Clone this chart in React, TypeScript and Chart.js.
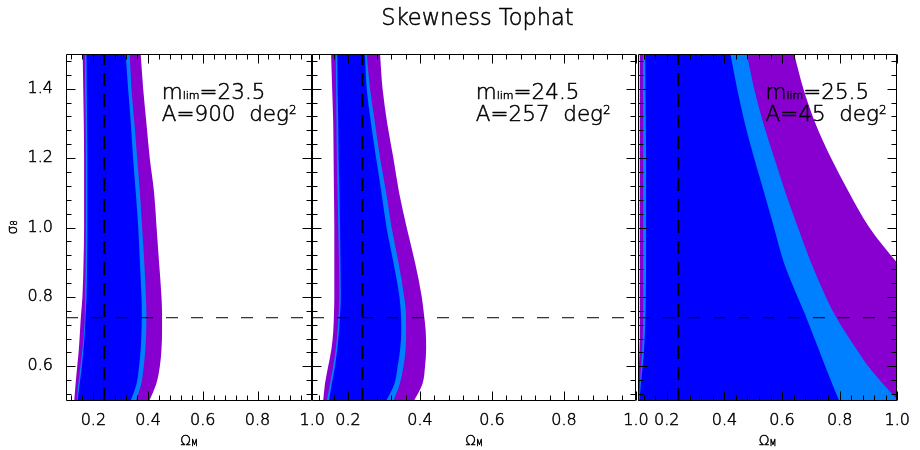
import React, { useEffect, useRef } from 'react';
import { Chart, registerables } from 'chart.js';

Chart.register(...registerables);

const FONT = '"DejaVu Sans", "Liberation Sans", sans-serif';
const WEIGHT = '200';
const STROKE = 0.5;

// sigma_8 levels at which the contour edges are read
const SIGMA8 = [0.5, 0.55, 0.6, 0.65, 0.7, 0.75, 0.8, 0.9, 1.0, 1.1, 1.2, 1.3, 1.4, 1.5];

// Panel 1: m_lim = 23.5, A = 900 deg^2  (Omega_M edges of each confidence region)
const P1_OUTER_L = [0.130, 0.135, 0.141, 0.147, 0.151, 0.155, 0.160, 0.164, 0.166, 0.166, 0.166, 0.165, 0.163, 0.161];
const P1_MID_L = [0.139, 0.145, 0.153, 0.160, 0.166, 0.169, 0.170, 0.172, 0.173, 0.173, 0.173, 0.172, 0.170, 0.169];
const P1_INNER_L = [0.142, 0.150, 0.158, 0.164, 0.169, 0.172, 0.175, 0.177, 0.178, 0.178, 0.178, 0.177, 0.176, 0.175];
const P1_INNER_R = [0.336, 0.358, 0.367, 0.373, 0.376, 0.377, 0.376, 0.370, 0.364, 0.355, 0.345, 0.337, 0.327, 0.318];
const P1_MID_R = [0.355, 0.375, 0.384, 0.390, 0.393, 0.394, 0.392, 0.386, 0.378, 0.370, 0.360, 0.350, 0.339, 0.333];
const P1_OUTER_R = [0.404, 0.430, 0.443, 0.449, 0.451, 0.451, 0.449, 0.440, 0.431, 0.422, 0.406, 0.394, 0.382, 0.373];

// Panel 2: m_lim = 24.5, A = 257 deg^2
const P2_OUTER_L = [0.131, 0.136, 0.145, 0.154, 0.159, 0.161, 0.162, 0.162, 0.162, 0.161, 0.160, 0.159, 0.156, 0.153];
const P2_MID_L = [0.141, 0.150, 0.159, 0.166, 0.171, 0.174, 0.176, 0.175, 0.173, 0.171, 0.169, 0.168, 0.167, 0.166];
const P2_INNER_L = [0.147, 0.155, 0.164, 0.170, 0.175, 0.178, 0.180, 0.179, 0.178, 0.176, 0.174, 0.173, 0.171, 0.170];
const P2_INNER_R = [0.306, 0.329, 0.338, 0.345, 0.348, 0.347, 0.343, 0.326, 0.307, 0.293, 0.278, 0.264, 0.252, 0.247];
const P2_MID_R = [0.326, 0.344, 0.354, 0.360, 0.361, 0.361, 0.356, 0.340, 0.321, 0.306, 0.289, 0.275, 0.261, 0.252];
const P2_OUTER_R = [0.383, 0.407, 0.414, 0.417, 0.416, 0.411, 0.405, 0.386, 0.363, 0.342, 0.326, 0.309, 0.296, 0.289];

// Panel 3: m_lim = 25.5, A = 45 deg^2
const P3_OUTER_L = [0.100, 0.101, 0.103, 0.105, 0.106, 0.106, 0.106, 0.106, 0.106, 0.106, 0.106, 0.106, 0.106, 0.106];
const P3_MID_L = [0.103, 0.107, 0.111, 0.115, 0.117, 0.118, 0.118, 0.118, 0.118, 0.118, 0.118, 0.118, 0.117, 0.117];
const P3_INNER_L = [0.105, 0.110, 0.116, 0.121, 0.124, 0.126, 0.127, 0.128, 0.128, 0.128, 0.128, 0.127, 0.126, 0.125];
const P3_INNER_R = [0.799, 0.774, 0.750, 0.727, 0.703, 0.680, 0.654, 0.606, 0.572, 0.538, 0.503, 0.471, 0.444, 0.421];
const P3_MID_R = [1.005, 0.950, 0.899, 0.858, 0.818, 0.782, 0.752, 0.700, 0.655, 0.612, 0.573, 0.535, 0.503, 0.478];
const P3_OUTER_R = [1.580, 1.480, 1.390, 1.310, 1.240, 1.170, 1.110, 0.998, 0.903, 0.833, 0.770, 0.716, 0.674, 0.642];

const X_TICKS = [0.2, 0.4, 0.6, 0.8, 1.0];
const Y_TICKS = [0.6, 0.8, 1.0, 1.2, 1.4];
const X_MIN = 0.1;
const X_MAX = 1.0;
const Y_MIN = 0.5;
const Y_MAX = 1.5;
const MINOR_STEP = 0.04;
const FID_OMEGA = 0.24;
const FID_SIGMA8 = 0.74;

const TITLE = 'Skewness Tophat';
const MLIM = ['23.5', '24.5', '25.5'];
const AREA = ['900', '257', '45'];

const COLOR_OUTER = 'rgb(136,0,208)';
const COLOR_MID = 'rgb(0,128,255)';
const COLOR_INNER = 'rgb(0,0,255)';

type PanelSpec = {
  idx: number;
  canvasLeft: number;
  canvasWidth: number;
  padL: number;
  padR: number;
  showY: boolean;
  titleX: number | null; // canvas x of the figure title centre, if this panel carries it
  labelX: number;
  edges: number[][]; // outerL, midL, innerL, innerR, midR, outerR
};

const PANELS: PanelSpec[] = [
  { idx: 0, canvasLeft: 0, canvasWidth: 335, padL: 0, padR: 22, showY: true, titleX: null, labelX: 0.45,
    edges: [P1_OUTER_L, P1_MID_L, P1_INNER_L, P1_INNER_R, P1_MID_R, P1_OUTER_R] },
  { idx: 1, canvasLeft: 290, canvasWidth: 370, padL: 22, padR: 24, showY: false, titleX: 187.5, labelX: 0.555,
    edges: [P2_OUTER_L, P2_MID_L, P2_INNER_L, P2_INNER_R, P2_MID_R, P2_OUTER_R] },
  { idx: 2, canvasLeft: 615, canvasWidth: 305, padL: 23, padR: 15, showY: false, titleX: null, labelX: 0.5425,
    edges: [P3_OUTER_L, P3_MID_L, P3_INNER_L, P3_INNER_R, P3_MID_R, P3_OUTER_R] },
];

type Part = { t: string; size: number; dy: number };

function drawRich(ctx: CanvasRenderingContext2D, parts: Part[], x: number, y: number, center: boolean) {
  let total = 0;
  for (const p of parts) {
    ctx.font = `${WEIGHT} ${p.size}px ${FONT}`;
    total += ctx.measureText(p.t).width;
  }
  let cx = center ? x - total / 2 : x;
  ctx.textAlign = 'left';
  ctx.textBaseline = 'alphabetic';
  ctx.lineWidth = STROKE;
  ctx.lineJoin = 'round';
  for (const p of parts) {
    ctx.font = `${WEIGHT} ${p.size}px ${FONT}`;
    ctx.fillText(p.t, cx, y + p.dy);
    ctx.strokeText(p.t, cx, y + p.dy);
    cx += ctx.measureText(p.t).width;
  }
}

const decorPlugin = {
  id: 'decor',
  afterDraw(chart: any) {
    const opts = chart.options.plugins.decor;
    const { ctx, chartArea: a } = chart;
    const xs = chart.scales.x;
    const ys = chart.scales.y;
    ctx.save();
    ctx.strokeStyle = '#000';
    ctx.fillStyle = '#000';
    ctx.lineWidth = 1;
    const L = Math.round(a.left) + 0.5;
    const R = Math.round(a.right) - 0.5;
    const T = Math.round(a.top) + 0.5;
    const B = Math.round(a.bottom) - 0.5;
    ctx.beginPath();
    ctx.rect(L, T, R - L, B - T);
    const kx0 = Math.ceil(X_MIN / MINOR_STEP - 1e-6);
    const kx1 = Math.floor(X_MAX / MINOR_STEP + 1e-6);
    for (let k = kx0; k <= kx1; k++) {
      const px = Math.round(xs.getPixelForValue(k * MINOR_STEP)) + 0.5;
      const len = k % 5 === 0 ? 9 : 5;
      ctx.moveTo(px, B); ctx.lineTo(px, B - len);
      ctx.moveTo(px, T); ctx.lineTo(px, T + len);
    }
    const ky0 = Math.ceil(Y_MIN / MINOR_STEP - 1e-6);
    const ky1 = Math.floor(Y_MAX / MINOR_STEP + 1e-6);
    for (let k = ky0; k <= ky1; k++) {
      const py = Math.round(ys.getPixelForValue(k * MINOR_STEP)) + 0.5;
      const len = k % 5 === 0 ? 9 : 5;
      ctx.moveTo(L, py); ctx.lineTo(L + len, py);
      ctx.moveTo(R, py); ctx.lineTo(R - len, py);
    }
    ctx.stroke();

    // annotation text
    const lx = xs.getPixelForValue(opts.labelX);
    drawRich(ctx, [
      { t: 'm', size: 21.5, dy: 0 },
      { t: 'lim', size: 11, dy: 0 },
      { t: '=' + opts.mlim, size: 21.5, dy: 0 },
    ], lx, ys.getPixelForValue(1.371), false);
    drawRich(ctx, [
      { t: 'A=' + opts.area + '  deg', size: 21.5, dy: 0 },
      { t: '2', size: 12, dy: -7 },
    ], lx, ys.getPixelForValue(1.306), false);

    // x axis title
    drawRich(ctx, [
      { t: 'Ω', size: 14, dy: 0 },
      { t: 'M', size: 8, dy: 1 },
    ], (a.left + a.right) / 2, 445, true);

    if (opts.showY) {
      ctx.save();
      ctx.translate(17, ys.getPixelForValue(1.0));
      ctx.rotate(-Math.PI / 2);
      drawRich(ctx, [
        { t: 'σ', size: 14, dy: 0 },
        { t: '8', size: 8, dy: 0 },
      ], 0, 0, true);
      ctx.restore();
    }

    if (opts.titleX !== null) {
      drawRich(ctx, [{ t: TITLE, size: 22.5, dy: 0 }], opts.titleX, 24.5, true);
    }
    ctx.restore();
  },
};

function series(xsArr: number[]) {
  return SIGMA8.map((s, i) => ({ x: xsArr[i], y: s }));
}

function buildConfig(p: PanelSpec): any {
  const [oL, mL, iL, iR, mR, oR] = p.edges;
  const band = (arr: number[], color: string, fill: any) => ({
    data: series(arr),
    borderWidth: 0,
    pointRadius: 0,
    cubicInterpolationMode: 'monotone',
    capBezierPoints: false,
    backgroundColor: color,
    borderColor: color,
    fill,
  });
  const tickFont = { family: FONT, size: 16, weight: WEIGHT };
  const yScale: any = {
    type: 'linear',
    position: 'left',
    display: p.showY,
    min: Y_MIN,
    max: Y_MAX,
    grid: { display: false, drawTicks: false },
    border: { display: false },
    afterBuildTicks: (s: any) => { s.ticks = Y_TICKS.map((value) => ({ value })); },
    ticks: {
      autoSkip: false,
      padding: 13,
      color: '#000',
      textStrokeColor: '#000',
      textStrokeWidth: STROKE,
      font: tickFont,
      callback: (v: any) => Number(v).toFixed(1),
    },
  };
  if (p.showY) yScale.afterFit = (s: any) => { s.width = 66; };
  return {
    type: 'line',
    data: {
      datasets: [
        {
          data: [{ x: FID_OMEGA, y: Y_MIN }, { x: FID_OMEGA, y: Y_MAX }],
          borderColor: '#000', borderWidth: 2, borderDash: [13, 8], pointRadius: 0, fill: false,
        },
        {
          data: [{ x: X_MIN, y: FID_SIGMA8 }, { x: X_MAX, y: FID_SIGMA8 }],
          borderColor: '#000', borderWidth: 1, borderDash: [12, 13], pointRadius: 0, fill: false,
        },
        band(iR, COLOR_INNER, '+1'),
        band(iL, COLOR_INNER, false),
        band(mR, COLOR_MID, '+1'),
        band(mL, COLOR_MID, false),
        band(oR, COLOR_OUTER, '+1'),
        band(oL, COLOR_OUTER, false),
      ],
    },
    options: {
      animation: false,
      responsive: false,
      maintainAspectRatio: false,
      events: [],
      indexAxis: 'y',
      layout: { padding: { left: p.padL, right: p.padR, top: 54, bottom: 0 } },
      plugins: {
        legend: { display: false },
        tooltip: { enabled: false },
        title: { display: false },
        decor: { labelX: p.labelX, mlim: MLIM[p.idx], area: AREA[p.idx], showY: p.showY, titleX: p.titleX },
      },
      scales: {
        x: {
          type: 'linear',
          position: 'bottom',
          min: X_MIN,
          max: X_MAX,
          grid: { display: false, drawTicks: false },
          border: { display: false },
          afterBuildTicks: (s: any) => { s.ticks = X_TICKS.map((value) => ({ value })); },
          afterFit: (s: any) => { s.height = 49; },
          ticks: {
            autoSkip: false,
            maxRotation: 0,
            padding: 10,
            color: '#000',
            textStrokeColor: '#000',
            textStrokeWidth: STROKE,
            font: tickFont,
            callback: (v: any) => Number(v).toFixed(1),
          },
        },
        y: yScale,
      },
    },
    plugins: [decorPlugin],
  };
}

function PanelChart({ panel }: { panel: PanelSpec }) {
  const ref = useRef<HTMLCanvasElement>(null);
  useEffect(() => {
    if (!ref.current) return;
    const chart = new Chart(ref.current, buildConfig(panel));
    return () => chart.destroy();
  }, [panel]);
  return (
    <canvas
      ref={ref}
      width={panel.canvasWidth}
      height={450}
      style={{ position: 'absolute', left: panel.canvasLeft, top: 0, width: panel.canvasWidth, height: 450 }}
    />
  );
}

export default function App() {
  return (
    <div style={{ position: 'absolute', left: 0, top: 0, width: 920, height: 450, background: '#fff', overflow: 'hidden' }}>
      {PANELS.map((p) => (
        <PanelChart key={p.idx} panel={p} />
      ))}
    </div>
  );
}
